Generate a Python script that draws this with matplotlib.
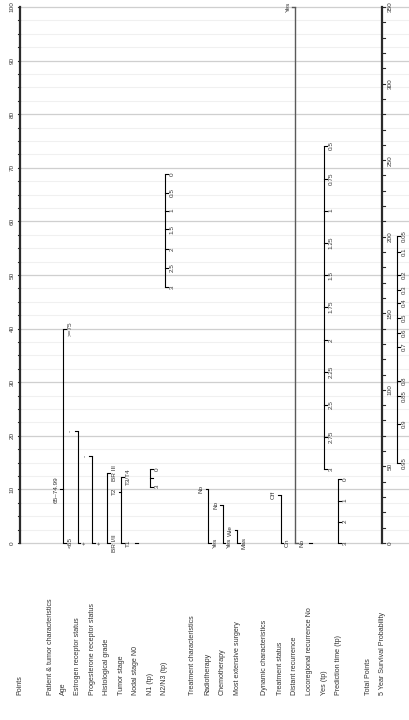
import numpy as np
import matplotlib.pyplot as plt

plt.rcParams['font.family'] = ['Liberation Sans', 'DejaVu Sans']

# points scale: 0 sits 543 px from the top, 100 sits 7 px from the top
PX_PER_POINT = 5.36
Y_ZERO = 543.0
FIG_W, FIG_H = 409, 720
TXT = '#333333'

# ---- nomogram values (points for each level) ----
age_labels = ['<65', '65–74.99', '>=75']
age_points = [0, 10.0, 40.0]
age_sides = 'rlr'

er_labels = ['+', '-']
er_points = [0, 20.9]
er_sides = 'rl'

pr_labels = ['+', '-']
pr_points = [0, 16.2]
pr_sides = 'rl'

grade_labels = ['BR I/II', 'BR III']
grade_points = [0, 13.0]
grade_sides = 'rr'

stage_labels = ['T1', 'T2', 'T3/T4']
stage_points = [0, 9.6, 12.3]
stage_sides = 'rlr'

n0_points = [0]

n1_labels = ['0', '', '3']
n1_points = [13.75, 12.1, 10.5]

n23_labels = ['0', '0.5', '1', '1.5', '2', '2.5', '3']
n23_points = [68.8, 65.3, 62.0, 58.5, 54.8, 51.3, 47.8]

radio_labels = ['Yes', 'No']
radio_points = [0, 10.0]
chemo_labels = ['Yes', 'No']
chemo_points = [0, 7.1]
surgery_labels = ['Mas', 'Wle']
surgery_points = [0, 2.4]

status_labels = ['On', 'Off']
status_points = [0, 9.0]
distant_labels = ['No', 'Yes']
distant_points = [0, 100.0]
locoreg_points = [0]

yes_tp_labels = ['0.5', '0.75', '1', '1.25', '1.5', '1.75', '2', '2.25', '2.5', '2.75', '3']
yes_tp_points = [74.1, 68.0, 62.0, 56.0, 50.0, 44.0, 37.9, 31.9, 25.8, 19.8, 13.75]

pred_labels = ['0', '1', '2', '3']
pred_points = [11.9, 7.9, 4.0, 0]

total_max = 350
total_major = np.arange(0, 351, 50)
total_minor = np.arange(0, 351, 10)

prob_labels = ['0.05', '0.1', '0.2', '0.3', '0.4', '0.5', '0.6', '0.7', '0.8', '0.85', '0.9', '0.95']
prob_total = [200.5, 190.0, 175.0, 165.2, 156.7, 146.9, 137.1, 128.0, 106.0, 96.0, 77.7, 52.2]

row_names = ['Points', 'Patient & tumor characteristics', 'Age', 'Estrogen receptor status',
             'Progesterone receptor status', 'Histological grade', 'Tumor stage', 'Nodal stage N0',
             'N1 (tp)', 'N2/N3 (tp)', 'Treatment characteristics', 'Radiotherapy', 'Chemotherapy',
             'Most extensive surgery', 'Dynamic characteristics', 'Treatment status',
             'Distant recurrence', 'Locoregional recurrence No', 'Yes (tp)', 'Prediction time (tp)',
             'Total Points', '5 Year Survival Probability']
row_x = [20, 50, 63, 77.5, 92, 107, 121.3, 135.5, 150, 165, 193, 208.3, 222.5, 237.3, 265,
         280.7, 295, 309.5, 324, 338.3, 368, 383]


def tot2pts(t):
    return np.asarray(t, dtype=float) * 100.0 / total_max


def scale(ax, x, pts, labels, sides, tick=2.6, gap=4.5, fs=4.6, color='k', lw=0.8):
    pts = np.asarray(pts, dtype=float)
    if len(pts) > 1:
        ax.plot([x, x], [pts.min(), pts.max()], color=color, lw=lw, solid_capstyle='butt', zorder=3)
    for p, lab, s in zip(pts, labels, sides):
        d = 1 if s == 'r' else -1
        ax.plot([x, x + d * tick], [p, p], color=color, lw=lw, zorder=3)
        if lab:
            ax.text(x + d * gap, p, lab, rotation=90, fontsize=fs, color=TXT,
                    ha='left' if d > 0 else 'right', va='center', zorder=4)


fig = plt.figure(figsize=(FIG_W / 100, FIG_H / 100), dpi=100)
ax = fig.add_axes([0, 0, 1, 1])
ax.set_xlim(0, FIG_W)
ax.set_ylim((Y_ZERO - FIG_H) / PX_PER_POINT, Y_ZERO / PX_PER_POINT)
ax.axis('off')

# horizontal grid over the points range
for p in np.arange(0, 100.01, 2.5):
    major = abs(p % 10) < 1e-9
    ax.plot([20, FIG_W], [p, p], color='#cfcfcf' if major else '#f0f0f0',
            lw=0.9 if major else 0.8, zorder=0)

# points axis
ax.plot([20, 20], [0, 100], color='#2b2b2b', lw=1.6, zorder=3)
for p in np.arange(0, 100.01, 2.5):
    ax.plot([20, 17.5], [p, p], color='#2b2b2b', lw=0.8, zorder=3)
for p in range(0, 101, 10):
    ax.text(14.5, p, str(p), rotation=90, fontsize=4.6, color=TXT, ha='right', va='center')

scale(ax, 63, age_points, age_labels, age_sides)
scale(ax, 77.5, er_points, er_labels, er_sides)
scale(ax, 92, pr_points, pr_labels, pr_sides)
scale(ax, 107, grade_points, grade_labels, grade_sides)
scale(ax, 121.3, stage_points, stage_labels, stage_sides)
scale(ax, 135, n0_points, [''], 'r')
scale(ax, 150, n1_points, n1_labels, 'rrr')
scale(ax, 165, n23_points, n23_labels, 'r' * len(n23_labels))
scale(ax, 208.3, radio_points, radio_labels, 'rl')
scale(ax, 222.5, chemo_points, chemo_labels, 'rl')
scale(ax, 237.3, surgery_points, surgery_labels, 'rl')
scale(ax, 280.7, status_points, status_labels, 'rl')
scale(ax, 295, distant_points, distant_labels, 'rl', color='#5a5a5a', lw=1.0)
scale(ax, 309, locoreg_points, [''], 'r')
scale(ax, 324, yes_tp_points, yes_tp_labels, 'r' * len(yes_tp_labels))
scale(ax, 338.3, pred_points, pred_labels, 'r' * len(pred_labels))

# total points axis
ax.plot([382, 382], tot2pts([0, total_max]), color='#2b2b2b', lw=1.6, zorder=3)
for t in total_minor:
    ax.plot([382, 384.5], tot2pts([t, t]), color='#2b2b2b', lw=0.8, zorder=3)
for t in total_major:
    ax.text(387.5, tot2pts(t), str(t), rotation=90, fontsize=4.6, color=TXT,
            ha='left', va='center')

# survival probability axis, placed on the total points scale
scale(ax, 397, tot2pts(prob_total), prob_labels, 'r' * len(prob_labels), gap=4.8, fs=4.4)

# row names along the bottom
y_lab = (Y_ZERO - 695) / PX_PER_POINT
for name, x in zip(row_names, row_x):
    ax.text(x, y_lab, name, rotation=90, fontsize=5.1, color=TXT, ha='center', va='bottom')

fig.savefig('out.png', dpi=100, facecolor='white')
